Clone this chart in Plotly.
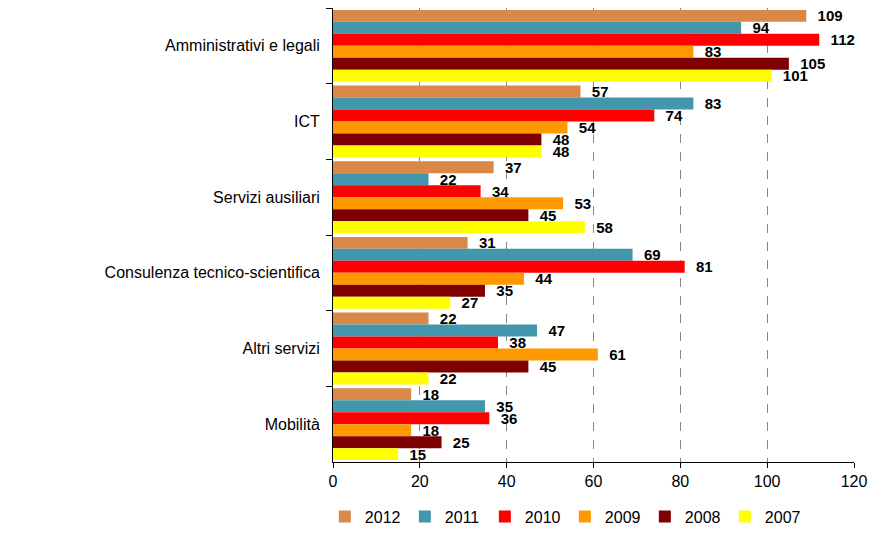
import plotly.graph_objects as go

categories = ["Amministrativi e legali", "ICT", "Servizi ausiliari",
              "Consulenza tecnico-scientifica", "Altri servizi", "Mobilità"]
years = ["2012", "2011", "2010", "2009", "2008", "2007"]
v2012 = [109, 57, 37, 31, 22, 18]
v2011 = [94, 83, 22, 69, 47, 35]
v2010 = [112, 74, 34, 81, 38, 36]
v2009 = [83, 54, 53, 44, 61, 18]
v2008 = [105, 48, 45, 35, 45, 25]
v2007 = [101, 48, 58, 27, 22, 15]
series = [v2012, v2011, v2010, v2009, v2008, v2007]
colors = ["#D98848", "#4297AD", "#FF0000", "#FF9900", "#7F0000", "#FFFF00"]
x_ticks = [0, 20, 40, 60, 80, 100, 120]

fig = go.Figure()
for yr, vals, col in zip(years, series, colors):
    fig.add_trace(go.Bar(
        y=categories, x=vals, name=yr, orientation="h",
        marker=dict(color=col, line=dict(width=0)),
        text=vals, texttemplate="  %{x}", textposition="outside",
        constraintext="none", cliponaxis=False,
        textfont=dict(family="Liberation Sans, Arial", size=15, color="black", weight="bold"),
    ))

fig.update_layout(
    barmode="group", bargap=0.05, bargroupgap=0,
    width=881, height=549,
    margin=dict(l=325, r=35, t=0, b=95, autoexpand=False),
    paper_bgcolor="white", plot_bgcolor="white",
    font=dict(family="Liberation Sans, Arial", size=16, color="black"),
    legend=dict(orientation="h", x=0.445, xanchor="center", y=-0.083, yanchor="top",
                font=dict(size=16), entrywidth=35, entrywidthmode="pixels",
                itemwidth=30, traceorder="normal", tracegroupgap=0),
    showlegend=True,
)
fig.update_xaxes(range=[0, 120], tickvals=x_ticks, showgrid=True, gridcolor="#888888",
                 griddash="dash", gridwidth=1, showline=True, linecolor="black",
                 ticks="outside", ticklen=5, tickcolor="black", zeroline=False,
                 tickfont=dict(size=16))
fig.update_yaxes(categoryorder="array", categoryarray=categories, autorange="reversed",
                 showline=True, linecolor="black", ticks="outside", ticklen=6,
                 tickson="boundaries", tickcolor="black", showgrid=False,
                 tickfont=dict(size=16), ticklabelstandoff=9)

fig.write_html("out.html")
